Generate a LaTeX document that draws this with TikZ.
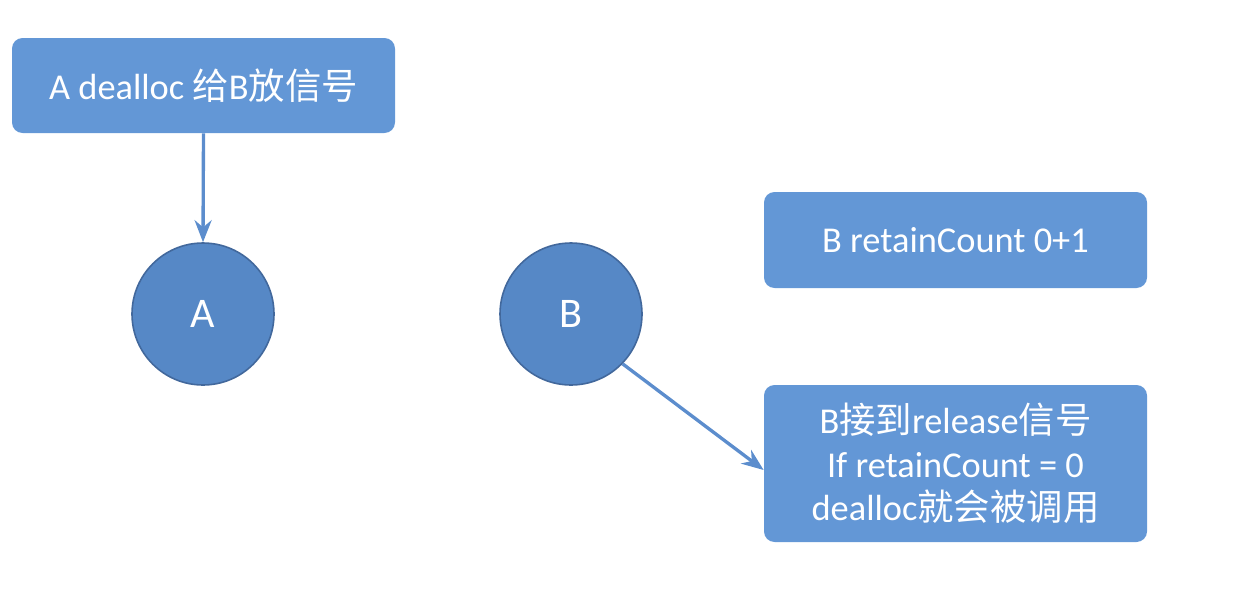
\documentclass[tikz,border=0pt]{standalone}
\usepackage{fontspec}
\setmainfont{Carlito}
\newfontfamily\cjk{Noto Sans CJK SC}
\newcommand{\zh}[1]{{\cjk #1}}
\usetikzlibrary{arrows.meta}
\definecolor{boxblue}{RGB}{99,151,214}
\definecolor{nodeblue}{RGB}{86,136,198}
\definecolor{nodeedge}{RGB}{66,104,156}
\definecolor{arrowblue}{RGB}{92,141,205}

\begin{document}
\begin{tikzpicture}[
  box/.style={fill=boxblue,rounded corners=6pt,minimum width=7.66cm,text=white,align=center,
    font=\fontsize{20.7}{24.7}\selectfont},
  obj/.style={circle,fill=nodeblue,draw=nodeedge,line width=0.9pt,minimum size=2.84cm,text=white,
    font=\fontsize{24}{28}\selectfont},
  arr/.style={-{Stealth[length=4.4mm,width=3.4mm]},line width=1.9pt,arrowblue},
]
  \useasboundingbox (0,0) rectangle (24.8,12.08);
  \node[box,minimum height=1.9cm] (send) at (4.07,10.37) {A dealloc \zh{给}B\zh{放信号}};
  \node[obj] (A) at (4.06,5.80) {A};
  \node[obj] (B) at (11.42,5.80) {B};
  \node[box,minimum height=1.92cm] (count) at (19.11,7.28) {B retainCount 0+1};
  \node[box,minimum height=3.14cm] (recv) at (19.11,2.81) {%
    B\zh{接到}release\zh{信号}\\If retainCount = 0\\dealloc\zh{就会被调用}};
  \draw[arr] (send.south) -- (A.north);
  \draw[arr] (B.-44) -- ([yshift=-1.3mm]recv.west);
\end{tikzpicture}
\end{document}
